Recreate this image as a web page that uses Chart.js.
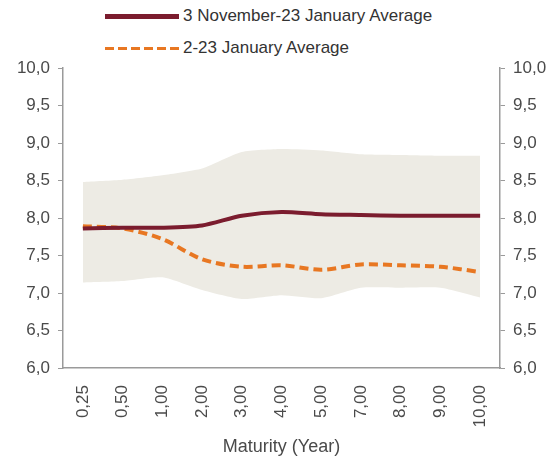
<!DOCTYPE html>
<html>
<head>
<meta charset="utf-8">
<script src="https://cdn.jsdelivr.net/npm/chart.js@4"></script>
<style>
  html, body { margin: 0; padding: 0; background: #fff; }
  #wrap { position: relative; width: 560px; height: 462px; font-family: 'Liberation Sans', Arial, sans-serif; }
  .leg { position: absolute; left: 105px; height: 22px; display: flex; align-items: center; font-size: 17px; color: #333; }
  .leg .mark { width: 74px; margin-right: 4px; }
  #leg1 { top: 5px; }
  #leg1 .mark { height: 5px; background: #7b1c2e; }
  #leg2 { top: 37px; }
  #leg2 .mark { height: 3px; background: repeating-linear-gradient(90deg, #e87722 0 9px, transparent 9px 13px); }
  canvas { position: absolute; left: 0; top: 0; }
</style>
</head>
<body>
<div id="wrap">
  <div class="leg" id="leg1"><span class="mark"></span><span>3 November-23 January Average</span></div>
  <div class="leg" id="leg2"><span class="mark"></span><span>2-23 January Average</span></div>
  <canvas id="c" width="560" height="462"></canvas>
</div>
<script>
  const maturities = ['0,25', '0,50', '1,00', '2,00', '3,00', '4,00', '5,00', '7,00', '8,00', '9,00', '10,00'];
  const novJanAvg = [7.86, 7.87, 7.87, 7.90, 8.03, 8.08, 8.05, 8.04, 8.03, 8.03, 8.03];
  const janAvg = [7.89, 7.86, 7.72, 7.45, 7.35, 7.37, 7.31, 7.38, 7.37, 7.35, 7.28];
  const bandUpper = [8.48, 8.51, 8.57, 8.66, 8.88, 8.92, 8.90, 8.85, 8.84, 8.83, 8.83];
  const bandLower = [7.14, 7.16, 7.21, 7.04, 6.92, 6.97, 6.93, 7.07, 7.07, 7.07, 6.94];

  const TEXT = '#4a4a4a';
  const AXIS = '#9a9a9a';
  const fmt = v => v.toFixed(1).replace('.', ',');

  Chart.defaults.font.family = "'Liberation Sans', Arial, sans-serif";
  Chart.defaults.font.size = 17;
  Chart.defaults.color = TEXT;

  const yAxis = (position, width) => ({
    position,
    min: 6,
    max: 10,
    grid: { drawOnChartArea: false, color: AXIS, tickLength: 5 },
    border: { color: AXIS, width: 1.5 },
    ticks: { stepSize: 0.5, padding: 8, callback: fmt },
    afterFit: s => { s.width = width; }
  });

  new Chart(document.getElementById('c'), {
    type: 'line',
    data: {
      labels: maturities,
      datasets: [
        {
          label: '3 November-23 January Average',
          data: novJanAvg,
          borderColor: '#7b1c2e',
          borderWidth: 4,
          pointRadius: 0,
          tension: 0.25,
          fill: false
        },
        {
          label: '2-23 January Average',
          data: janAvg,
          borderColor: '#e87722',
          borderWidth: 4,
          borderDash: [9, 5],
          pointRadius: 0,
          tension: 0.3,
          fill: false
        },
        {
          label: 'upper',
          data: bandUpper,
          borderWidth: 0,
          borderColor: 'rgba(0,0,0,0)',
          backgroundColor: '#edebe4',
          pointRadius: 0,
          tension: 0.2,
          fill: '+1'
        },
        {
          label: 'lower',
          data: bandLower,
          borderWidth: 0,
          borderColor: 'rgba(0,0,0,0)',
          pointRadius: 0,
          tension: 0.2,
          fill: false
        }
      ]
    },
    options: {
      responsive: false,
      animation: false,
      layout: { padding: { top: 68, left: 0, right: 0, bottom: 0 } },
      plugins: { legend: { display: false }, tooltip: { enabled: false } },
      scales: {
        x: {
          offset: true,
          grid: { display: false },
          border: { color: AXIS, width: 1.5 },
          ticks: { minRotation: 90, maxRotation: 90, padding: 9, autoSkip: false },
          title: { display: true, text: 'Maturity (Year)', font: { size: 18 }, padding: { top: 4, bottom: 4 } },
          afterFit: s => { s.height = 94; }
        },
        y: yAxis('left', 63),
        y2: yAxis('right', 60)
      }
    }
  });
</script>
</body>
</html>
